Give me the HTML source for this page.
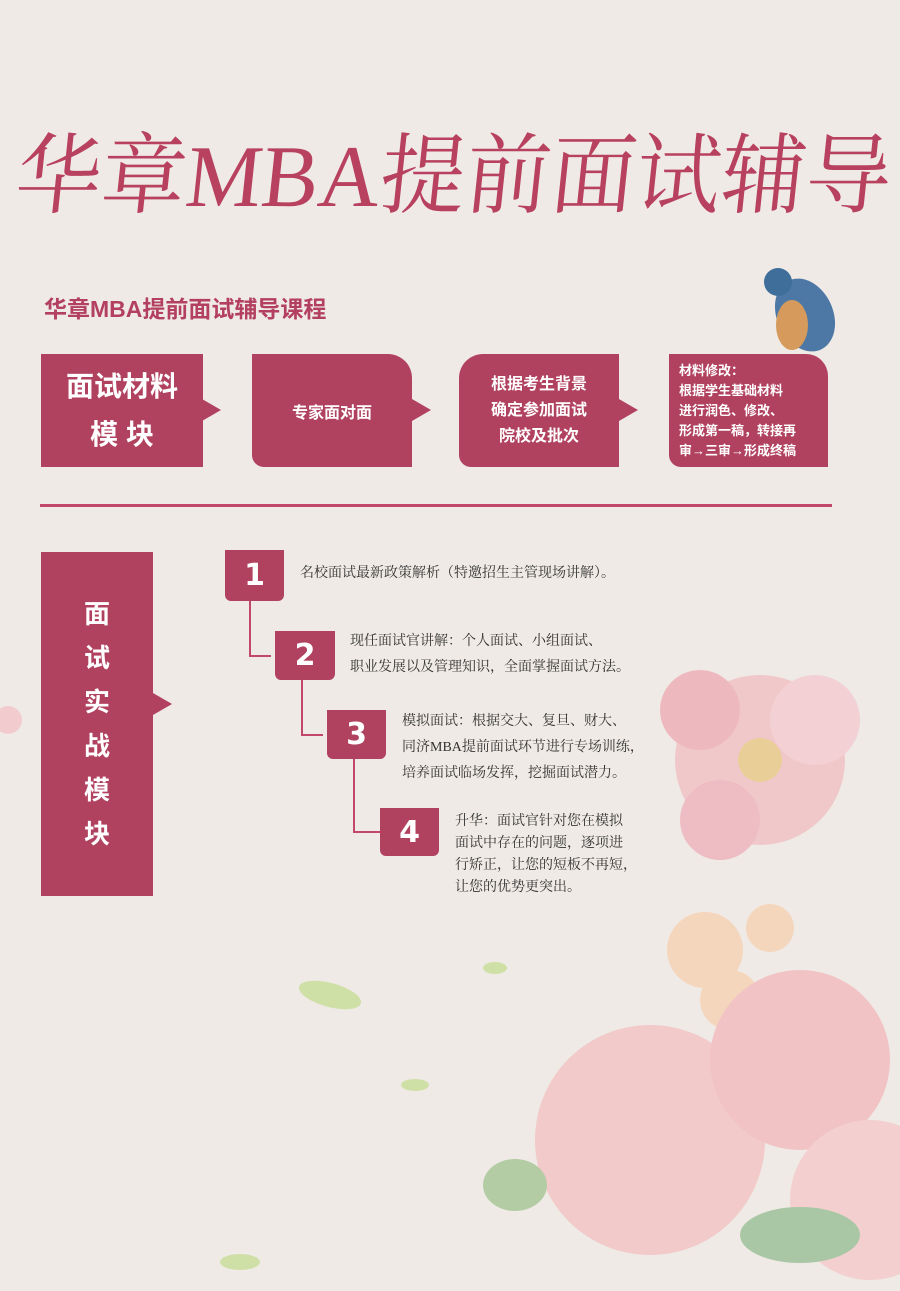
<!DOCTYPE html>
<html><head><meta charset="utf-8"><style>
html,body{margin:0;padding:0}
body{width:900px;height:1291px;position:relative;overflow:hidden;background:#efeae5;font-family:"Liberation Sans","Noto Sans CJK SC",sans-serif;color:#b3405e}
.abs{position:absolute}
.box{position:absolute;background:#b1425f;color:#fff;font-weight:bold;display:flex;align-items:center;justify-content:center;text-align:center}
.arrow{position:absolute;width:0;height:0;border-top:11px solid transparent;border-bottom:11px solid transparent;border-left:19px solid #b1425f}
.num{position:absolute;background:#b1425f;color:#fff;font-weight:bold;font-size:30px;display:flex;align-items:center;justify-content:center;border-radius:0 0 6px 6px;font-family:"DejaVu Sans",sans-serif}
.txt{position:absolute;color:#333;font-family:"Liberation Serif","Noto Serif CJK SC",serif;font-size:14px;line-height:26px}
.ln{position:absolute;background:#c2476a}
</style></head><body>
<svg class="abs" style="left:0;top:0" width="900" height="1291">
 <g opacity="0.85">
  <circle cx="760" cy="760" r="85" fill="#f1c2c6"/>
  <circle cx="700" cy="710" r="40" fill="#eeb0b8"/>
  <circle cx="815" cy="720" r="45" fill="#f3cbd0"/>
  <circle cx="720" cy="820" r="40" fill="#eeb5bd"/>
  <circle cx="760" cy="760" r="22" fill="#e8c98a"/>
  <circle cx="705" cy="950" r="38" fill="#f5d3b5"/>
  <circle cx="770" cy="928" r="24" fill="#f5d3b5"/>
  <circle cx="730" cy="1000" r="30" fill="#f5d3b5"/>
  <circle cx="650" cy="1140" r="115" fill="#f3c4c5"/>
  <circle cx="800" cy="1060" r="90" fill="#f1bcc0"/>
  <circle cx="870" cy="1200" r="80" fill="#f4cacc"/>
  <ellipse cx="515" cy="1185" rx="32" ry="26" fill="#a9c799"/>
  <ellipse cx="800" cy="1235" rx="60" ry="28" fill="#9dc19a"/>
  <ellipse cx="330" cy="995" rx="32" ry="12" fill="#c9de9c" transform="rotate(15 330 995)"/>
  <ellipse cx="415" cy="1085" rx="14" ry="6" fill="#c9de9c"/>
  <ellipse cx="495" cy="968" rx="12" ry="6" fill="#c9de9c"/>
  <ellipse cx="240" cy="1262" rx="20" ry="8" fill="#c9de9c"/>
  <circle cx="8" cy="720" r="14" fill="#f3c6ca"/>
  <circle cx="68" cy="874" r="14" fill="#e89aa8"/>
 </g>
 <g>
  <ellipse cx="805" cy="315" rx="28" ry="38" fill="#4d78a5" transform="rotate(-25 805 315)"/>
  <ellipse cx="792" cy="325" rx="16" ry="25" fill="#d59a5c"/>
  <circle cx="778" cy="282" r="14" fill="#3f6e9a"/>
 </g>
 <text x="15" y="206" textLength="875" lengthAdjust="spacingAndGlyphs" font-size="88" fill="#b8415f" font-family="Liberation Serif,Noto Serif CJK SC,serif" font-weight="normal" transform="skewX(-6) translate(20 0)">华章MBA提前面试辅导</text>
</svg>

<div class="abs" style="left:44px;top:290px;font-size:23px;font-weight:bold;color:#b3405e">华章MBA提前面试辅导课程</div>

<div class="box" style="left:41px;top:354px;width:162px;height:113px;font-size:28px;line-height:48px">面试材料<br>模&nbsp;块</div>
<div class="arrow" style="left:202px;top:399px"></div>
<div class="box" style="left:252px;top:354px;width:160px;height:113px;font-size:16px;border-radius:0 24px 0 12px">专家面对面</div>
<div class="arrow" style="left:412px;top:399px"></div>
<div class="box" style="left:459px;top:354px;width:160px;height:113px;font-size:16px;line-height:26px;border-radius:24px 0 0 12px">根据考生背景<br>确定参加面试<br>院校及批次</div>
<div class="arrow" style="left:619px;top:399px"></div>
<div class="box" style="left:669px;top:354px;width:159px;height:113px;font-size:13px;line-height:20px;border-radius:0 22px 0 12px;text-align:left;justify-content:flex-start;padding-left:10px;box-sizing:border-box">材料修改：<br>根据学生基础材料<br>进行润色、修改、<br>形成第一稿，转接再<br>审→三审→形成终稿</div>

<div class="ln" style="left:40px;top:504px;width:792px;height:3px"></div>

<div class="box" style="left:41px;top:552px;width:112px;height:344px;font-size:26px;line-height:44px">面<br>试<br>实<br>战<br>模<br>块</div>
<div class="arrow" style="left:153px;top:693px"></div>

<div class="ln" style="left:249px;top:600px;width:2px;height:57px"></div>
<div class="ln" style="left:249px;top:655px;width:22px;height:2px"></div>
<div class="ln" style="left:301px;top:679px;width:2px;height:57px"></div>
<div class="ln" style="left:301px;top:734px;width:22px;height:2px"></div>
<div class="ln" style="left:353px;top:759px;width:2px;height:74px"></div>
<div class="ln" style="left:353px;top:831px;width:27px;height:2px"></div>

<div class="num" style="left:225px;top:550px;width:59px;height:51px">1</div>
<div class="num" style="left:275px;top:631px;width:60px;height:49px">2</div>
<div class="num" style="left:327px;top:710px;width:59px;height:49px">3</div>
<div class="num" style="left:380px;top:808px;width:59px;height:48px">4</div>

<div class="txt" style="left:300px;top:561px">名校面试最新政策解析（特邀招生主管现场讲解）。</div>
<div class="txt" style="left:350px;top:629px">现任面试官讲解：个人面试、小组面试、<br>职业发展以及管理知识，全面掌握面试方法。</div>
<div class="txt" style="left:402px;top:709px">模拟面试：根据交大、复旦、财大、<br>同济MBA提前面试环节进行专场训练，<br>培养面试临场发挥，挖掘面试潜力。</div>
<div class="txt" style="left:455px;top:811px;line-height:22px">升华：面试官针对您在模拟<br>面试中存在的问题，逐项进<br>行矫正，让您的短板不再短，<br>让您的优势更突出。</div>
</body></html>
